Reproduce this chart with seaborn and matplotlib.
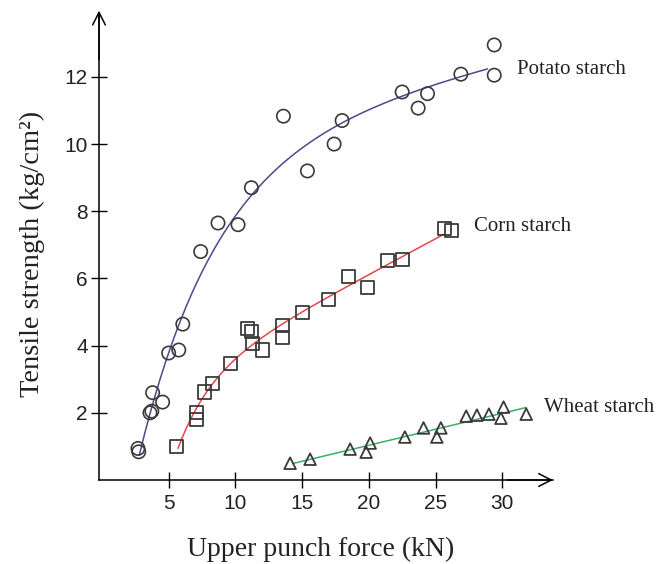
import numpy as np
import matplotlib
matplotlib.use("Agg")
import matplotlib.pyplot as plt
import seaborn as sns

# ---- data ----
potato_force = [2.7, 2.76, 3.6, 3.74, 3.8, 4.55, 5.0, 5.76, 6.06, 7.4, 8.7, 10.2,
                11.2, 13.6, 15.4, 17.4, 18.0, 22.5, 23.7, 24.4, 26.9, 29.4, 29.4]
potato_strength = [0.94, 0.84, 2.0, 2.05, 2.6, 2.32, 3.78, 3.87, 4.64, 6.8, 7.65, 7.6,
                   8.7, 10.83, 9.2, 10.0, 10.7, 11.55, 11.07, 11.5, 12.08, 12.95, 12.05]

corn_force = [5.6, 7.1, 7.1, 7.7, 8.3, 9.6, 10.9, 11.2, 11.3, 12.0, 13.5, 13.5,
              15.0, 17.0, 18.5, 19.9, 21.4, 22.5, 25.7, 26.2]
corn_strength = [0.99, 2.02, 1.79, 2.62, 2.86, 3.48, 4.5, 4.42, 4.05, 3.87, 4.6, 4.24,
                 5.0, 5.36, 6.07, 5.74, 6.52, 6.55, 7.5, 7.42]

wheat_force = [14.1, 15.6, 18.6, 19.8, 20.1, 22.7, 24.1, 25.1, 25.4, 27.3, 28.1,
               29.0, 29.9, 30.1, 31.8]
wheat_strength = [0.5, 0.62, 0.92, 0.83, 1.1, 1.28, 1.55, 1.28, 1.55, 1.9, 1.93,
                  1.96, 1.84, 2.17, 1.96]

series_names = ["Potato starch", "Corn starch", "Wheat starch"]
x_ticks = [5, 10, 15, 20, 25, 30]
y_ticks = [2, 4, 6, 8, 10, 12]


def saturation_fit(x, y):
    """Least-squares fit of y = A - B*exp(-k x) + c*x (grid over k)."""
    x = np.asarray(x, float)
    y = np.asarray(y, float)
    best = None
    for k in np.linspace(0.01, 1.0, 1000):
        M = np.column_stack([np.ones_like(x), -np.exp(-k * x), x])
        coef, *_ = np.linalg.lstsq(M, y, rcond=None)
        err = np.sum((M @ coef - y) ** 2)
        if best is None or err < best[0]:
            best = (err, k, coef)
    _, k, (A, B, c) = best
    xs = np.linspace(x.min() + 0.1, x.max() - 0.5, 200)
    return xs, A - B * np.exp(-k * xs) + c * xs


def linear_fit(x, y):
    x = np.asarray(x, float)
    p = np.polyfit(x, y, 1)
    xs = np.linspace(x.min() + 0.2, x.max(), 50)
    return xs, np.polyval(p, xs)


sns.set_theme(style="white")
plt.rcParams["font.family"] = ["Liberation Sans", "DejaVu Sans"]

fig = plt.figure(figsize=(6.56, 5.64), dpi=100)
ax = fig.add_axes([0.1509, 0.1489, 0.692, 0.828])

edge = "#3a3a3a"
line_colors = ["#4a4a8e", "#e0484e", "#3aae6c"]

fits = [saturation_fit(potato_force, potato_strength),
        saturation_fit(corn_force, corn_strength),
        linear_fit(wheat_force, wheat_strength)]
for (xs, ys), c in zip(fits, line_colors):
    sns.lineplot(x=xs, y=ys, color=c, linewidth=1.1, ax=ax, estimator=None,
                 sort=True, zorder=2)

sns.scatterplot(x=potato_force, y=potato_strength, marker="o", s=92,
                facecolor="none", edgecolor=edge, linewidth=1.2, ax=ax, zorder=3)
sns.scatterplot(x=corn_force, y=corn_strength, marker="s", s=88,
                facecolor="none", edgecolor=edge, linewidth=1.3, ax=ax, zorder=3)
sns.scatterplot(x=wheat_force, y=wheat_strength, marker="^", s=70,
                facecolor="none", edgecolor=edge, linewidth=1.3, ax=ax, zorder=3)

# series labels
label_pos = [(31.1, 12.22), (27.9, 7.56), (33.1, 2.17)]
for name, (lx, ly) in zip(series_names, label_pos):
    ax.text(lx, ly, name, fontsize=15, family="Liberation Serif",
            ha="left", va="center", color="#222222", clip_on=False)

ax.set_xlim(-0.22, 33.8)
ax.set_ylim(0, 13.9)
ax.set_xticks(x_ticks)
ax.set_yticks(y_ticks)
ax.tick_params(bottom=True, left=True, direction="inout", length=12, width=1.0,
               color="black", labelcolor="#222222", labelsize=15, pad=2)
ax.tick_params(axis="x", pad=4)

sns.despine(ax=ax)
for s in ["left", "bottom"]:
    ax.spines[s].set_color("black")
    ax.spines[s].set_linewidth(1.1)

# arrowheads on the axes
arrow = dict(arrowstyle="->, head_length=0.75, head_width=0.38", lw=1.1,
             color="black", shrinkA=0, shrinkB=0)
ax.annotate("", xy=(1.0, 0), xytext=(0.9, 0), xycoords="axes fraction",
            arrowprops=arrow, annotation_clip=False)
ax.annotate("", xy=(0, 1.005), xytext=(0, 0.9), xycoords="axes fraction",
            arrowprops=arrow, annotation_clip=False)

ax.set_xlabel("Upper punch force (kN)", fontsize=20, family="Liberation Serif",
              color="#222222")
ax.set_ylabel("Tensile strength (kg/cm²)", fontsize=20.5, family="Liberation Serif",
              color="#222222")
ax.xaxis.set_label_coords(0.488, -0.122)
ax.yaxis.set_label_coords(-0.118, 0.485)

fig.savefig("out.png", dpi=100)
